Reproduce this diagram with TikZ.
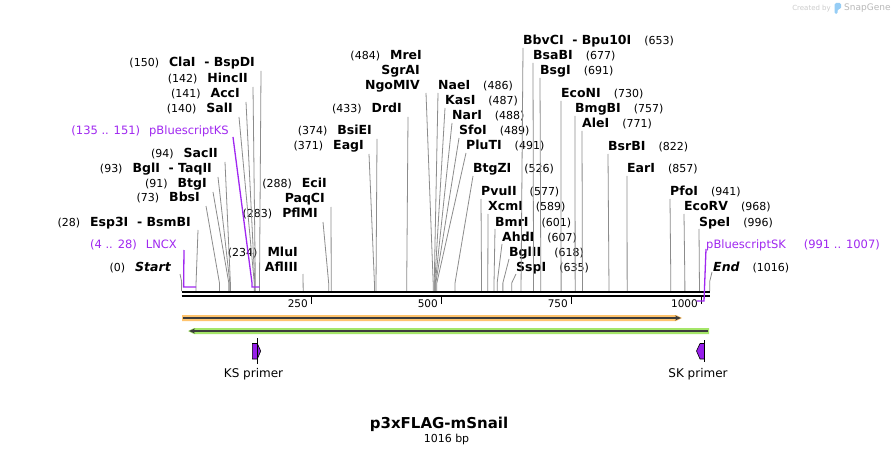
\documentclass[tikz,border=0pt]{standalone}
\usepackage{fontspec}
\setmainfont{DejaVu Sans}[BoldItalicFont={DejaVu Sans Bold Oblique}]
\usepackage{tikz}
\usetikzlibrary{arrows.meta}
\definecolor{cutgray}{RGB}{140,140,140}
\definecolor{featpurple}{RGB}{160,40,240}
\definecolor{primerfill}{RGB}{150,30,235}
\definecolor{orangefeat}{RGB}{255,196,110}
\definecolor{greenfeat}{RGB}{165,230,105}
\definecolor{darkline}{RGB}{60,60,60}
\definecolor{logoblue}{RGB}{150,205,245}
\newcommand{\enzl}[2]{{\fontsize{11}{13}\selectfont(#1)}\hspace{10pt}{\fontsize{12.5}{14}\selectfont\bfseries #2}}
\newcommand{\enzr}[2]{{\fontsize{12.5}{14}\selectfont\bfseries #1}\hspace{13pt}{\fontsize{11}{13}\selectfont(#2)}}
\newcommand{\enzn}[1]{{\fontsize{12.5}{14}\selectfont\bfseries #1}}
\tikzset{
 le/.style
  = {anchor=base east, inner sep=0pt},
 ri/.style
  = {anchor=base west, inner sep=0pt},
 cut/.style
  = {draw=cutgray, line width=0.8pt},
 feat/.style
  = {draw=featpurple, line width=1.3pt},
 ft/.style
  = {text=featpurple, font=\fontsize{11.5}{13}\selectfont},
}

\begin{document}
\begin{tikzpicture}[x=1pt,y=-1pt]

\path[fill=white,use as bounding box] (0,0) rectangle (893,454);

% cut sites on the backbone
\foreach \p in {0,28,73,91,93,94,140,141,142,150,234,283,288,371,374,433,484,486,487,488,489,491,526,577,589,601,607,618,635,653,677,691,730,757,771,822,857,941,968,996,1016}
  \coordinate (s\p) at ({181.5+0.52*\p},291);

% feature ends
\coordinate (lx0) at (183.6,287);
\coordinate (lx1) at (196,287);
\coordinate (ks0) at (252,287);
\coordinate (ks1) at (259.5,287);
\coordinate (sk0) at (696.5,301);
\coordinate (sk1) at (704,301);

% left column
\node[le] (clai) at (255,67) {\enzl{150}{ClaI\ \ -\ BspDI}};
\node[le] (hinc) at (248,83) {\enzl{142}{HincII}};
\node[le] (acc) at (240,98) {\enzl{141}{AccI}};
\node[le] (sal) at (233,113) {\enzl{140}{SalI}};
\node[le,ft] (ks) at (229,135) {(135 .. 151)\hspace{9pt}pBluescriptKS};
\node[le] (sac) at (218,158) {\enzl{94}{SacII}};
\node[le] (taq) at (212,173) {\enzl{93}{BglI\ \ -\ TaqII}};
\node[le] (btg) at (207,188) {\enzl{91}{BtgI}};
\node[le] (bbs) at (200,202) {\enzl{73}{BbsI}};
\node[le] (bsmb) at (191,226) {\enzl{28}{Esp3I\ \ -\ BsmBI}};
\node[le,ft] (lncx) at (177,248) {(4 .. 28)\hspace{9pt}LNCX};
\node[le] (start) at (171,271) {\enzl{0}{\itshape Start}};

% middle
\node[le] (eci) at (327,188) {\enzl{288}{EciI}};
\node[le] (paq) at (325,203) {\enzn{PaqCI}};
\node[le] (pfl) at (318,218) {\enzl{283}{PflMI}};
\node[le] (mlu) at (298,256) {\enzl{234}{MluI}};
\node[le] (afl) at (298,271) {\enzn{AflIII}};
\node[le] (bsie) at (372,135) {\enzl{374}{BsiEI}};
\node[le] (eag) at (364,150) {\enzl{371}{EagI}};
\node[le] (drd) at (402,113) {\enzl{433}{DrdI}};
\node[le] (mre) at (422,60) {\enzl{484}{MreI}};
\node[le] (sgr) at (420,75) {\enzn{SgrAI}};
\node[le] (ngo) at (420,90) {\enzn{NgoMIV}};
\node[ri] (nae) at (438,90) {\enzr{NaeI}{486}};
\node[ri] (kas) at (445,105) {\enzr{KasI}{487}};
\node[ri] (nar) at (452,120) {\enzr{NarI}{488}};
\node[ri] (sfo) at (459,135) {\enzr{SfoI}{489}};
\node[ri] (plu) at (466,150) {\enzr{PluTI}{491}};
\node[ri] (btgz) at (473,173) {\enzr{BtgZI}{526}};
\node[ri] (pvu) at (481,196) {\enzr{PvuII}{577}};
\node[ri] (xcm) at (488,211) {\enzr{XcmI}{589}};
\node[ri] (bmr) at (495,226) {\enzr{BmrI}{601}};
\node[ri] (ahd) at (502,241) {\enzr{AhdI}{607}};
\node[ri] (bgl) at (509,256) {\enzr{BglII}{618}};
\node[ri] (ssp) at (516,271) {\enzr{SspI}{635}};

% right column
\node[ri] (bbv) at (523,45) {\enzr{BbvCI\ \ -\ Bpu10I}{653}};
\node[ri] (bsab) at (533,60) {\enzr{BsaBI}{677}};
\node[ri] (bsg) at (540,75) {\enzr{BsgI}{691}};
\node[ri] (econ) at (561,98) {\enzr{EcoNI}{730}};
\node[ri] (bmg) at (575,113) {\enzr{BmgBI}{757}};
\node[ri] (ale) at (582,128) {\enzr{AleI}{771}};
\node[ri] (bsrb) at (608,151) {\enzr{BsrBI}{822}};
\node[ri] (ear) at (627,173) {\enzr{EarI}{857}};
\node[ri] (pfo) at (670,196) {\enzr{PfoI}{941}};
\node[ri] (ecorv) at (684,211) {\enzr{EcoRV}{968}};
\node[ri] (spe) at (699,226) {\enzr{SpeI}{996}};
\node[ri,ft] (sk) at (706,248) {pBluescriptSK\hspace{18pt}(991 .. 1007)};
\node[ri] (fin) at (713,271) {\enzr{\itshape End}{1016}};

% lines to the left labels
\draw[cut] (clai.base east) ++(6,4) -- ([yshift=8pt]s150) -- (s150);
\draw[cut] (hinc.base east) ++(5,4) -- ([yshift=8pt]s142) -- (s142);
\draw[cut] (acc.base east) ++(6,4) -- ([yshift=8pt]s141) -- (s141);
\draw[cut] (sal.base east) ++(6,4) -- ([yshift=8pt]s140) -- (s140);
\draw[cut] (sac.base east) ++(7,4) -- ([yshift=8pt]s94) -- (s94);
\draw[cut] (taq.base east) ++(6,4) -- ([yshift=8pt]s93) -- (s93);
\draw[cut] (btg.base east) ++(6,4) -- ([yshift=8pt]s91) -- (s91);
\draw[cut] (bbs.base east) ++(6,4) -- ([yshift=8pt]s73) -- (s73);
\draw[cut] (bsmb.base east) ++(7,4) -- ([yshift=8pt]s28) -- (s28);
\draw[cut] (start.base east) ++(9,3) -- ([yshift=10pt]s0) -- (s0);
\draw[cut] (paq.base east) ++(6,4) -- (s288);
\draw[cut] (pfl.base east) ++(5,4) -- ([yshift=8pt]s283) -- (s283);
\draw[cut] (afl.base east) ++(5,3) -- (s234);
\draw[cut] (bsie.base east) ++(5,4) -- (s374);
\draw[cut] (eag.base east) ++(5,4) -- ([yshift=8pt]s371) -- (s371);
\draw[cut] (drd.base east) ++(6,4) -- (s433);
\draw[cut] (ngo.base east) ++(6,3) -- ([yshift=8pt]s484) -- (s484);

% lines to the right labels
\foreach \n/\p in {nae/486,kas/487,nar/488,sfo/489,plu/491,btgz/526,pvu/577,xcm/589,bmr/601,ahd/607,bgl/618,ssp/635,bbv/653,bsab/677,bsg/691,econ/730,bmg/757,ale/771,bsrb/822,ear/857,pfo/941,ecorv/968,spe/996}
  \draw[cut] (\n.base west) ++(0,3) -- ([yshift=8pt]s\p) -- (s\p);
\draw[cut] (fin.base west) ++(-1,1) -- ([yshift=10pt]s1016) -- (s1016);

% features LNCX, KS, SK
\draw[feat] (lncx.base east) ++(7,2) -- (lx0) -- (lx1);
\draw[feat] (ks.base east) ++(4,2) -- ([yshift=4pt]ks0) -- (ks0) -- (ks1);

% backbone
\draw[line width=2.3pt] (181.5,292.2) -- (710,292.2);
\draw[line width=2pt] (181.5,295.8) -- (710,295.8);
\foreach \t in {250,500,750,1000} {
  \draw[line width=1.3pt] ({181.5+0.52*\t},297) -- ++(0,6.5);
  \node[anchor=base east, inner sep=0pt, font=\fontsize{10.5}{12}\selectfont] (t\t) at ({178+0.52*\t},307) {\t};
}
\draw[feat] (sk.base west) ++(0,1) -- (sk1) -- (sk0);

% orange and green arrows
\fill[orangefeat] (182,315) -- (676,315) -- (682,318) -- (676,321) -- (182,321) -- cycle;
\draw[darkline, line width=1.3pt, -{Stealth[length=6pt,width=5pt]}] (183,318) -- (681,318);
\fill[greenfeat] (709,328) -- (194,328) -- (188,331) -- (194,334) -- (709,334) -- cycle;
\draw[darkline, line width=1.3pt, -{Stealth[length=6pt,width=5pt]}] (708,331) -- (189,331);

% primers
\filldraw[fill=primerfill, draw=black, line width=0.6pt] (257.3,343.5) -- (252.3,343.5) -- (252.3,359) -- (257.3,359) .. controls (259.5,355) .. (260.7,351) .. controls (259.5,347) .. (257.3,343.5);
\draw[line width=0.8pt] (257.3,338) -- (257.3,364);
\node[anchor=base, font=\fontsize{12}{14}\selectfont] (kslbl) at (253.5,377) {KS primer};
\filldraw[fill=primerfill, draw=black, line width=0.6pt] (700,343.5) -- (704.5,343.5) -- (704.5,359) -- (700,359) .. controls (697.8,355) .. (696.5,351) .. controls (697.8,347) .. (700,343.5);
\draw[line width=0.8pt] (704.5,340) -- (704.5,362);
\node[anchor=base, font=\fontsize{12}{14}\selectfont] (sklbl) at (698,377) {SK primer};

% title
\node[anchor=base, font=\fontsize{15}{18}\selectfont\bfseries] (title) at (439,428) {p3xFLAG-mSnail};
\node[anchor=base, font=\fontsize{11}{13}\selectfont] (size) at (446.5,442) {1016 bp};

% watermark
\node[anchor=base east, inner sep=0pt, text=gray!40, font=\fontsize{7}{8}\selectfont] (made) at (831,11) {Created by};
\fill[logoblue, rounded corners=1.5pt] (834.5,14) -- (834.5,3) -- (841,3) -- (841,9) -- (837.5,9) -- (837.5,14) -- cycle;
\node[anchor=base west, inner sep=0pt, text=gray!55, font=\fontsize{9}{10}\selectfont] (snap) at (844,11) {SnapGene};

\end{tikzpicture}
\end{document}
